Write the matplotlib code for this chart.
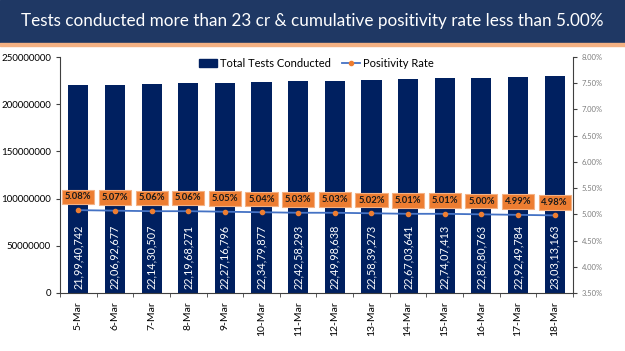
import numpy as np
import matplotlib.pyplot as plt
from matplotlib.patches import Rectangle
from matplotlib.lines import Line2D
from matplotlib.ticker import FuncFormatter

plt.rcParams['font.family'] = ['Lato', 'DejaVu Sans']

dates = ["5-Mar", "6-Mar", "7-Mar", "8-Mar", "9-Mar", "10-Mar", "11-Mar",
         "12-Mar", "13-Mar", "14-Mar", "15-Mar", "16-Mar", "17-Mar", "18-Mar"]
tests = [219940742, 220692677, 221430507, 221968271, 222716796, 223479877, 224258293,
         224998638, 225839273, 226703641, 227407413, 228280763, 229249784, 230313163]
test_labels = ["21,99,40,742", "22,06,92,677", "22,14,30,507", "22,19,68,271",
               "22,27,16,796", "22,34,79,877", "22,42,58,293", "22,49,98,638",
               "22,58,39,273", "22,67,03,641", "22,74,07,413", "22,82,80,763",
               "22,92,49,784", "23,03,13,163"]
positivity = [5.08, 5.07, 5.06, 5.06, 5.05, 5.04, 5.03, 5.03, 5.02, 5.01, 5.01, 5.00, 4.99, 4.98]

navy = "#002060"
orange = "#ED7D31"
line_blue = "#4472C4"

fig = plt.figure(figsize=(6.25, 3.51), dpi=100)

# title banner
fig.patches.append(Rectangle((0, 1 - 42 / 351), 1, 42 / 351, transform=fig.transFigure,
                             color="#1F3864", zorder=0))
fig.patches.append(Rectangle((0, 1 - 46 / 351), 1, 3 / 351, transform=fig.transFigure,
                             color="#F4B183", zorder=0))
fig.text(0.5, 1 - 21 / 351, "Tests conducted more than 23 cr & cumulative positivity rate less than 5.00%",
         color="white", fontsize=12.3, ha="center", va="center")

ax = fig.add_axes([60 / 625, 58 / 351, 513 / 625, 236 / 351])
x = np.arange(len(dates))
ax.bar(x, tests, width=0.55, color=navy, zorder=2)
ax.set_ylim(0, 250000000)
ax.set_xlim(-0.5, len(dates) - 0.5)
ax.set_yticks(np.arange(0, 250000001, 50000000))
ax.yaxis.set_major_formatter(FuncFormatter(lambda v, p: "%d" % v))
ax.tick_params(axis="y", labelsize=7, length=3, direction="out", colors="#404040", labelcolor="black")
ax.set_xticks(x)
ax.set_xticklabels(dates, rotation=90, fontsize=7.5)
ax.set_xticks(np.arange(-0.5, len(dates), 1), minor=True)
ax.tick_params(axis="x", which="major", length=0, pad=6)
ax.tick_params(axis="x", which="minor", length=3, color="#404040")
for s in ["top", "right"]:
    ax.spines[s].set_visible(False)
ax.spines["left"].set_color("#404040")
ax.spines["bottom"].set_color("#404040")

for xi, lab in zip(x, test_labels):
    ax.text(xi, 4000000, lab, rotation=90, color="white", fontsize=7.8,
            ha="center", va="bottom", zorder=3)

ax2 = ax.twinx()
ax2.set_ylim(3.5, 8.0)
ax2.set_yticks(np.arange(3.5, 8.01, 0.5))
ax2.yaxis.set_major_formatter(FuncFormatter(lambda v, p: "%.2f%%" % v))
ax2.tick_params(axis="y", labelsize=5.5, length=3, colors="#404040", labelcolor="#7F7F7F")
for s in ["top", "left", "bottom"]:
    ax2.spines[s].set_visible(False)
ax2.spines["right"].set_color("#404040")
ax2.plot(x, positivity, color=line_blue, lw=1.3, marker="o", ms=3,
         mfc=orange, mec=orange, zorder=4)
for xi, p in zip(x, positivity):
    ax2.annotate("%.2f%%" % p, (xi, p), xytext=(0, 9.5), textcoords="offset points",
                 ha="center", va="center", fontsize=6.8, color="#1a1a1a", fontweight="bold",
                 bbox=dict(boxstyle="square,pad=0.3", fc=orange, ec="#F4B183", lw=0.8))

handles = [Rectangle((0, 0), 1, 1, color=navy),
           Line2D([0], [0], color=line_blue, lw=1.3, marker="o", ms=3, mfc=orange, mec=orange)]
ax.legend(handles, ["Total Tests Conducted", "Positivity Rate"], loc="upper center",
          bbox_to_anchor=(0.5, 1.04), ncol=2, frameon=False, fontsize=8,
          handlelength=1.6, columnspacing=1.0, handletextpad=0.3)

fig.savefig("out.png", dpi=100)
